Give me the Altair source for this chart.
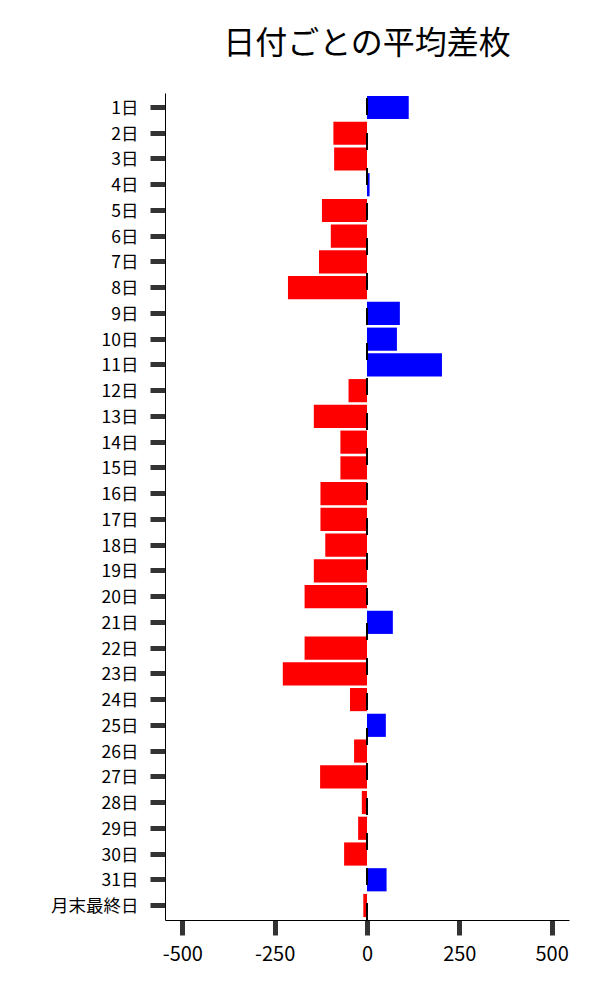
import altair as alt
import pandas as pd

days = ["1日", "2日", "3日", "4日", "5日", "6日", "7日", "8日", "9日", "10日",
        "11日", "12日", "13日", "14日", "15日", "16日", "17日", "18日", "19日", "20日",
        "21日", "22日", "23日", "24日", "25日", "26日", "27日", "28日", "29日", "30日",
        "31日", "月末最終日"]
values = [113, -91, -89, 7, -122, -98, -130, -214, 89, 81,
          203, -50, -144, -72, -72, -126, -126, -113, -144, -169,
          70, -169, -228, -46, 51, -35, -127, -14, -24, -62,
          53, -10]
x_ticks = [-500, -250, 0, 250, 500]

df = pd.DataFrame({"day": days, "value": values})
df["sign"] = ["pos" if v > 0 else "neg" for v in values]

FONT = "Noto Sans CJK JP"

x_scale = alt.Scale(domain=[-547, 547], nice=False, zero=False)

bars = alt.Chart(df).mark_bar().encode(
    y=alt.Y("day:N", sort=days, title=None,
            scale=alt.Scale(paddingInner=0.1, paddingOuter=0.113),
            axis=alt.Axis(labelFontSize=17.5, labelFont=FONT, labelColor="black",
                          tickSize=15, tickWidth=5, tickColor="#333333",
                          domainColor="black", domainWidth=1, labelPadding=12,
                          labelOffset=1.5)),
    x=alt.X("value:Q", scale=x_scale, title=None,
            axis=alt.Axis(values=x_ticks, labelExpr="'' + datum.value",
                          labelFontSize=20, labelFont=FONT, labelColor="black",
                          tickSize=15, tickWidth=5, tickColor="#333333",
                          domainColor="black", domainWidth=1, labelPadding=9,
                          grid=False)),
    color=alt.Color("sign:N", scale=alt.Scale(domain=["pos", "neg"], range=["#0000ff", "#ff0000"]),
                    legend=None),
)

zero_line = alt.Chart(pd.DataFrame({"z": [0]})).mark_rule(
    color="black", strokeWidth=2, strokeDash=[17, 18]
).encode(
    x=alt.X("z:Q", scale=x_scale),
    y=alt.value(827),
    y2=alt.value(0),
)

chart = alt.layer(bars, zero_line).properties(
    width=404, height=827,
    title=alt.TitleParams("日付ごとの平均差枚", fontSize=32, font=FONT, fontWeight="normal",
                          anchor="middle", offset=31, color="black"),
    autosize=alt.AutoSizeParams(type="none"),
    padding={"left": 157, "top": 85, "right": 20, "bottom": 60},
).configure_view(stroke=None).configure_axis(grid=False)

chart.save("out.html", embed_options={"renderer": "svg", "actions": False})
